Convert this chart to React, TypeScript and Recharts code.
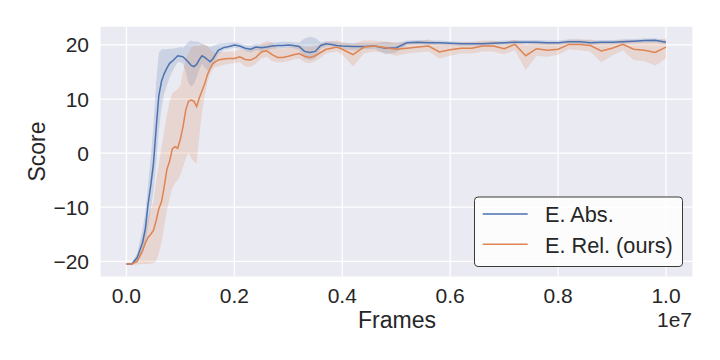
import React from 'react';
import { ComposedChart, Line, Area, XAxis, YAxis, CartesianGrid } from 'recharts';

// x in units of 1e7 frames
const frames = [
  0, 0.01, 0.02, 0.03, 0.035, 0.04, 0.045, 0.05, 0.055, 0.06, 0.065, 0.07, 0.075, 0.08, 0.085, 0.09, 0.095,
  0.1, 0.105, 0.11, 0.115, 0.12, 0.125, 0.13, 0.135, 0.14, 0.145, 0.15, 0.155, 0.16, 0.165, 0.17, 0.18, 0.19,
  0.2, 0.21, 0.22, 0.23, 0.24, 0.25, 0.26, 0.27, 0.28, 0.29, 0.3, 0.31, 0.32, 0.33, 0.34, 0.35, 0.36, 0.37,
  0.38, 0.39, 0.4, 0.42, 0.44, 0.46, 0.48, 0.5, 0.52, 0.54, 0.56, 0.58, 0.6, 0.62, 0.64, 0.66, 0.68, 0.7,
  0.72, 0.74, 0.76, 0.78, 0.8, 0.82, 0.84, 0.86, 0.88, 0.9, 0.92, 0.94, 0.96, 0.98, 1.0,
];

const absMean = [
  -20.5, -20.5, -19.3, -16.5, -14.0, -9.5, -6.0, -2.0, 4.5, 10.6, 13.3, 14.7, 15.7, 16.6, 17.0, 17.5, 18.0,
  17.9, 17.8, 17.3, 16.8, 16.2, 16.0, 16.4, 17.3, 18.0, 17.7, 17.3, 16.9, 17.4, 18.2, 19.0, 19.5, 19.7,
  20.0, 19.8, 19.4, 19.2, 19.6, 19.5, 19.6, 19.8, 19.9, 19.9, 20.0, 19.9, 19.7, 18.8, 18.6, 18.8, 19.9, 20.2,
  20.1, 19.9, 19.8, 19.7, 19.7, 19.8, 19.4, 19.5, 20.4, 20.5, 20.4, 20.4, 20.3, 20.2, 20.2, 20.2, 20.3, 20.4,
  20.5, 20.5, 20.5, 20.4, 20.4, 20.6, 20.6, 20.4, 20.5, 20.5, 20.6, 20.7, 20.8, 20.85, 20.5,
];
const absLow = [
  -20.7, -20.7, -20.2, -18.5, -17, -13.5, -10.5, -7, -2, 4, 8.5, 11, 12.5, 14.0, 15.0, 16.0, 16.8,
  16.8, 16.5, 15.0, 13.0, 12.3, 12.8, 14.0, 15.5, 16.5, 15.8, 15.3, 15.5, 16.5, 17.2, 18.3, 19.0, 19.3,
  19.5, 19.3, 18.9, 18.6, 19.0, 18.9, 19.0, 19.3, 19.4, 19.4, 19.5, 19.4, 19.1, 17.5, 17.2, 17.5, 19.3, 19.7,
  19.7, 19.4, 19.3, 19.0, 19.2, 19.3, 18.3, 18.6, 20.0, 20.1, 20.0, 20.0, 19.9, 19.8, 19.8, 19.8, 19.9, 20.0,
  20.1, 20.1, 20.1, 20.0, 20.0, 20.2, 20.2, 20.0, 20.1, 20.1, 20.2, 20.3, 20.4, 20.45, 20.1,
];
const absHigh = [
  -20.4, -20.3, -18.5, -14.0, -11, -6, -1, 5, 13, 18.5, 19.2, 19.2, 19.2, 19.3, 19.3, 19.4, 19.5,
  19.6, 19.5, 20.0, 20.6, 20.8, 20.6, 20.7, 20.5, 20.2, 20.0, 19.8, 19.6, 19.8, 20.0, 20.2, 20.3, 20.4,
  20.5, 20.3, 20.0, 19.9, 20.2, 20.1, 20.2, 20.4, 20.5, 20.6, 20.6, 20.5, 20.4, 21.2, 21.5, 21.3, 20.5, 20.7,
  20.7, 20.5, 20.4, 20.3, 20.3, 20.3, 20.6, 20.3, 20.8, 20.9, 20.8, 20.8, 20.7, 20.6, 20.6, 20.6, 20.7, 20.8,
  20.9, 20.9, 20.9, 20.8, 20.8, 21.0, 21.0, 20.8, 20.9, 20.9, 21.0, 21.1, 21.2, 21.25, 20.9,
];

const relMean = [
  -20.5, -20.5, -20.0, -18.0, -16.6, -15.6, -15.0, -14.3, -12.5, -10.3, -9.0, -6.2, -3.0, -1.5, 0.8, 1.2, 0.9,
  2.6, 5.0, 8.0, 9.6, 9.8, 9.6, 8.6, 10.2, 11.5, 12.8, 14.5, 15.6, 16.5, 16.9, 17.2, 17.4, 17.5,
  17.5, 17.8, 17.3, 17.2, 17.7, 18.7, 18.9, 18.2, 17.7, 17.7, 17.9, 18.2, 18.4, 17.9, 17.7, 18.0, 18.6, 19.2,
  19.4, 19.6, 19.2, 18.2, 19.6, 19.8, 19.5, 19.2, 19.4, 19.6, 19.8, 18.7, 19.1, 19.4, 19.4, 19.8, 19.8, 19.3,
  20.1, 18.0, 19.3, 19.0, 19.2, 20.1, 20.1, 19.9, 18.9, 19.4, 20.1, 19.2, 19.0, 18.6, 19.6,
];
const relLow = [
  -20.7, -20.7, -20.6, -20.5, -20.5, -20.5, -20.4, -20.3, -20.0, -18.5, -16.5, -13.5, -10.5, -8.5, -6.5, -5.5, -5.0,
  -4.0, -2.5, -1.0, 0, -1.0, -1.5, -2.0, 3.0, 7.5, 10.5, 13.0, 14.5, 15.5, 15.9, 16.0, 16.3, 16.5,
  16.6, 16.8, 16.0, 15.9, 16.5, 17.5, 17.8, 17.0, 16.8, 16.8, 17.0, 17.3, 17.5, 16.8, 16.6, 17.0, 17.6, 18.4,
  18.6, 18.8, 18.2, 16.0, 18.4, 18.8, 18.5, 18.0, 18.4, 18.6, 18.8, 17.5, 18.0, 18.4, 18.4, 18.8, 18.8, 18.3,
  19.0, 15.3, 18.0, 17.8, 18.2, 19.2, 19.0, 18.8, 16.8, 18.0, 19.0, 17.2, 17.0, 16.2, 17.5,
];
const relHigh = [
  -20.3, -20.2, -19.3, -15.5, -13.5, -12, -10.5, -9, -5, -2, 1, 4, 7, 9.5, 11, 11.5, 11.8,
  12.5, 15, 17.5, 18.5, 19.5, 19.8, 19.8, 19.8, 20.2, 20.0, 19.8, 19.2, 18.8, 18.5, 18.6, 18.7, 18.8,
  18.8, 19.2, 19.0, 19.0, 19.4, 20.2, 20.7, 20.5, 19.4, 19.3, 19.5, 19.8, 20.0, 19.6, 19.6, 19.8, 20.2, 20.6,
  20.7, 20.8, 20.5, 20.2, 20.8, 20.8, 20.6, 20.5, 20.5, 20.7, 21.0, 20.2, 20.3, 20.5, 20.5, 20.8, 20.8, 20.5,
  21.0, 20.0, 20.5, 20.3, 20.3, 21.0, 21.0, 21.0, 20.3, 20.6, 21.0, 20.8, 20.6, 20.8, 21.2,
];

const xTicks = [0, 0.2, 0.4, 0.6, 0.8, 1.0];
const yTicks = [-20, -10, 0, 10, 20];
const seriesNames = ['E. Abs.', 'E. Rel. (ours)'];

const BLUE = '#4C72B0';
const ORANGE = '#DD8452';
const TEXT = '#262626';
const FONT = '"Liberation Sans", Arial, sans-serif';

const data = frames.map((x, i) => ({
  x,
  abs: absMean[i],
  absBand: [absLow[i], absHigh[i]],
  rel: relMean[i],
  relBand: [relLow[i], relHigh[i]],
}));

const fmtY = (v: number) => (v < 0 ? '\u2212' + Math.abs(v) : String(v));

const YTick = (props: any) => (
  <text x={89} y={props.y} dy="0.36em" textAnchor="end" fontSize={21} fill={TEXT} fontFamily={FONT}>
    {fmtY(props.payload.value)}
  </text>
);

const XTick = (props: any) => (
  <text x={props.x} y={302.7} textAnchor="middle" fontSize={21} fill={TEXT} fontFamily={FONT}>
    {Number(props.payload.value).toFixed(1)}
  </text>
);

export default function App() {
  return (
    <div style={{ position: 'absolute', left: 0, top: 0, width: 720, height: 360, background: '#fff' }}>
      <ComposedChart width={720} height={360} data={data} margin={{ top: 26, right: 27, bottom: 0, left: 0 }}>
        <CartesianGrid fill="#EAEAF2" stroke="#ffffff" strokeWidth={1.25} />
        <XAxis
          dataKey="x"
          type="number"
          domain={[-0.049, 1.05]}
          ticks={xTicks}
          allowDataOverflow
          axisLine={false}
          tickLine={false}
          height={83}
          tick={<XTick />}
          interval={0}
        />
        <YAxis
          type="number"
          domain={[-22.9, 23.5]}
          ticks={yTicks}
          allowDataOverflow
          axisLine={false}
          tickLine={false}
          width={100}
          tick={<YTick />}
          interval={0}
        />
        <Area dataKey="absBand" stroke="none" fill={BLUE} fillOpacity={0.2} isAnimationActive={false} activeDot={false} />
        <Line dataKey="abs" stroke={BLUE} strokeWidth={1.5} dot={false} type="linear" isAnimationActive={false} activeDot={false} />
        <Area dataKey="relBand" stroke="none" fill={ORANGE} fillOpacity={0.2} isAnimationActive={false} activeDot={false} />
        <Line dataKey="rel" stroke={ORANGE} strokeWidth={1.5} dot={false} type="linear" isAnimationActive={false} activeDot={false} />
      </ComposedChart>
      <svg width={720} height={360} style={{ position: 'absolute', left: 0, top: 0, pointerEvents: 'none' }}>
        <text x={397} y={328} textAnchor="middle" fontSize={23} fill={TEXT} fontFamily={FONT}>Frames</text>
        <text x={692} y={327} textAnchor="end" fontSize={21} fill={TEXT} fontFamily={FONT}>1e7</text>
        <text x={45} y={151.5} textAnchor="middle" fontSize={23} fill={TEXT} fontFamily={FONT} transform="rotate(-90 45 151.5)">Score</text>
        <rect x={474.5} y={197} width={208} height={69.5} rx={3.5} ry={3.5} fill="#ffffff" fillOpacity={0.85} stroke="#3a3a3a" strokeWidth={1} />
        <line x1={482.7} y1={214} x2={527.7} y2={214} stroke={BLUE} strokeWidth={1.5} />
        <line x1={482.7} y1={244.3} x2={527.7} y2={244.3} stroke={ORANGE} strokeWidth={1.5} />
        <text x={545} y={222.3} fontSize={21.7} fill={TEXT} fontFamily={FONT}>{seriesNames[0]}</text>
        <text x={545} y={252.7} fontSize={21.7} fill={TEXT} fontFamily={FONT}>{seriesNames[1]}</text>
      </svg>
    </div>
  );
}
